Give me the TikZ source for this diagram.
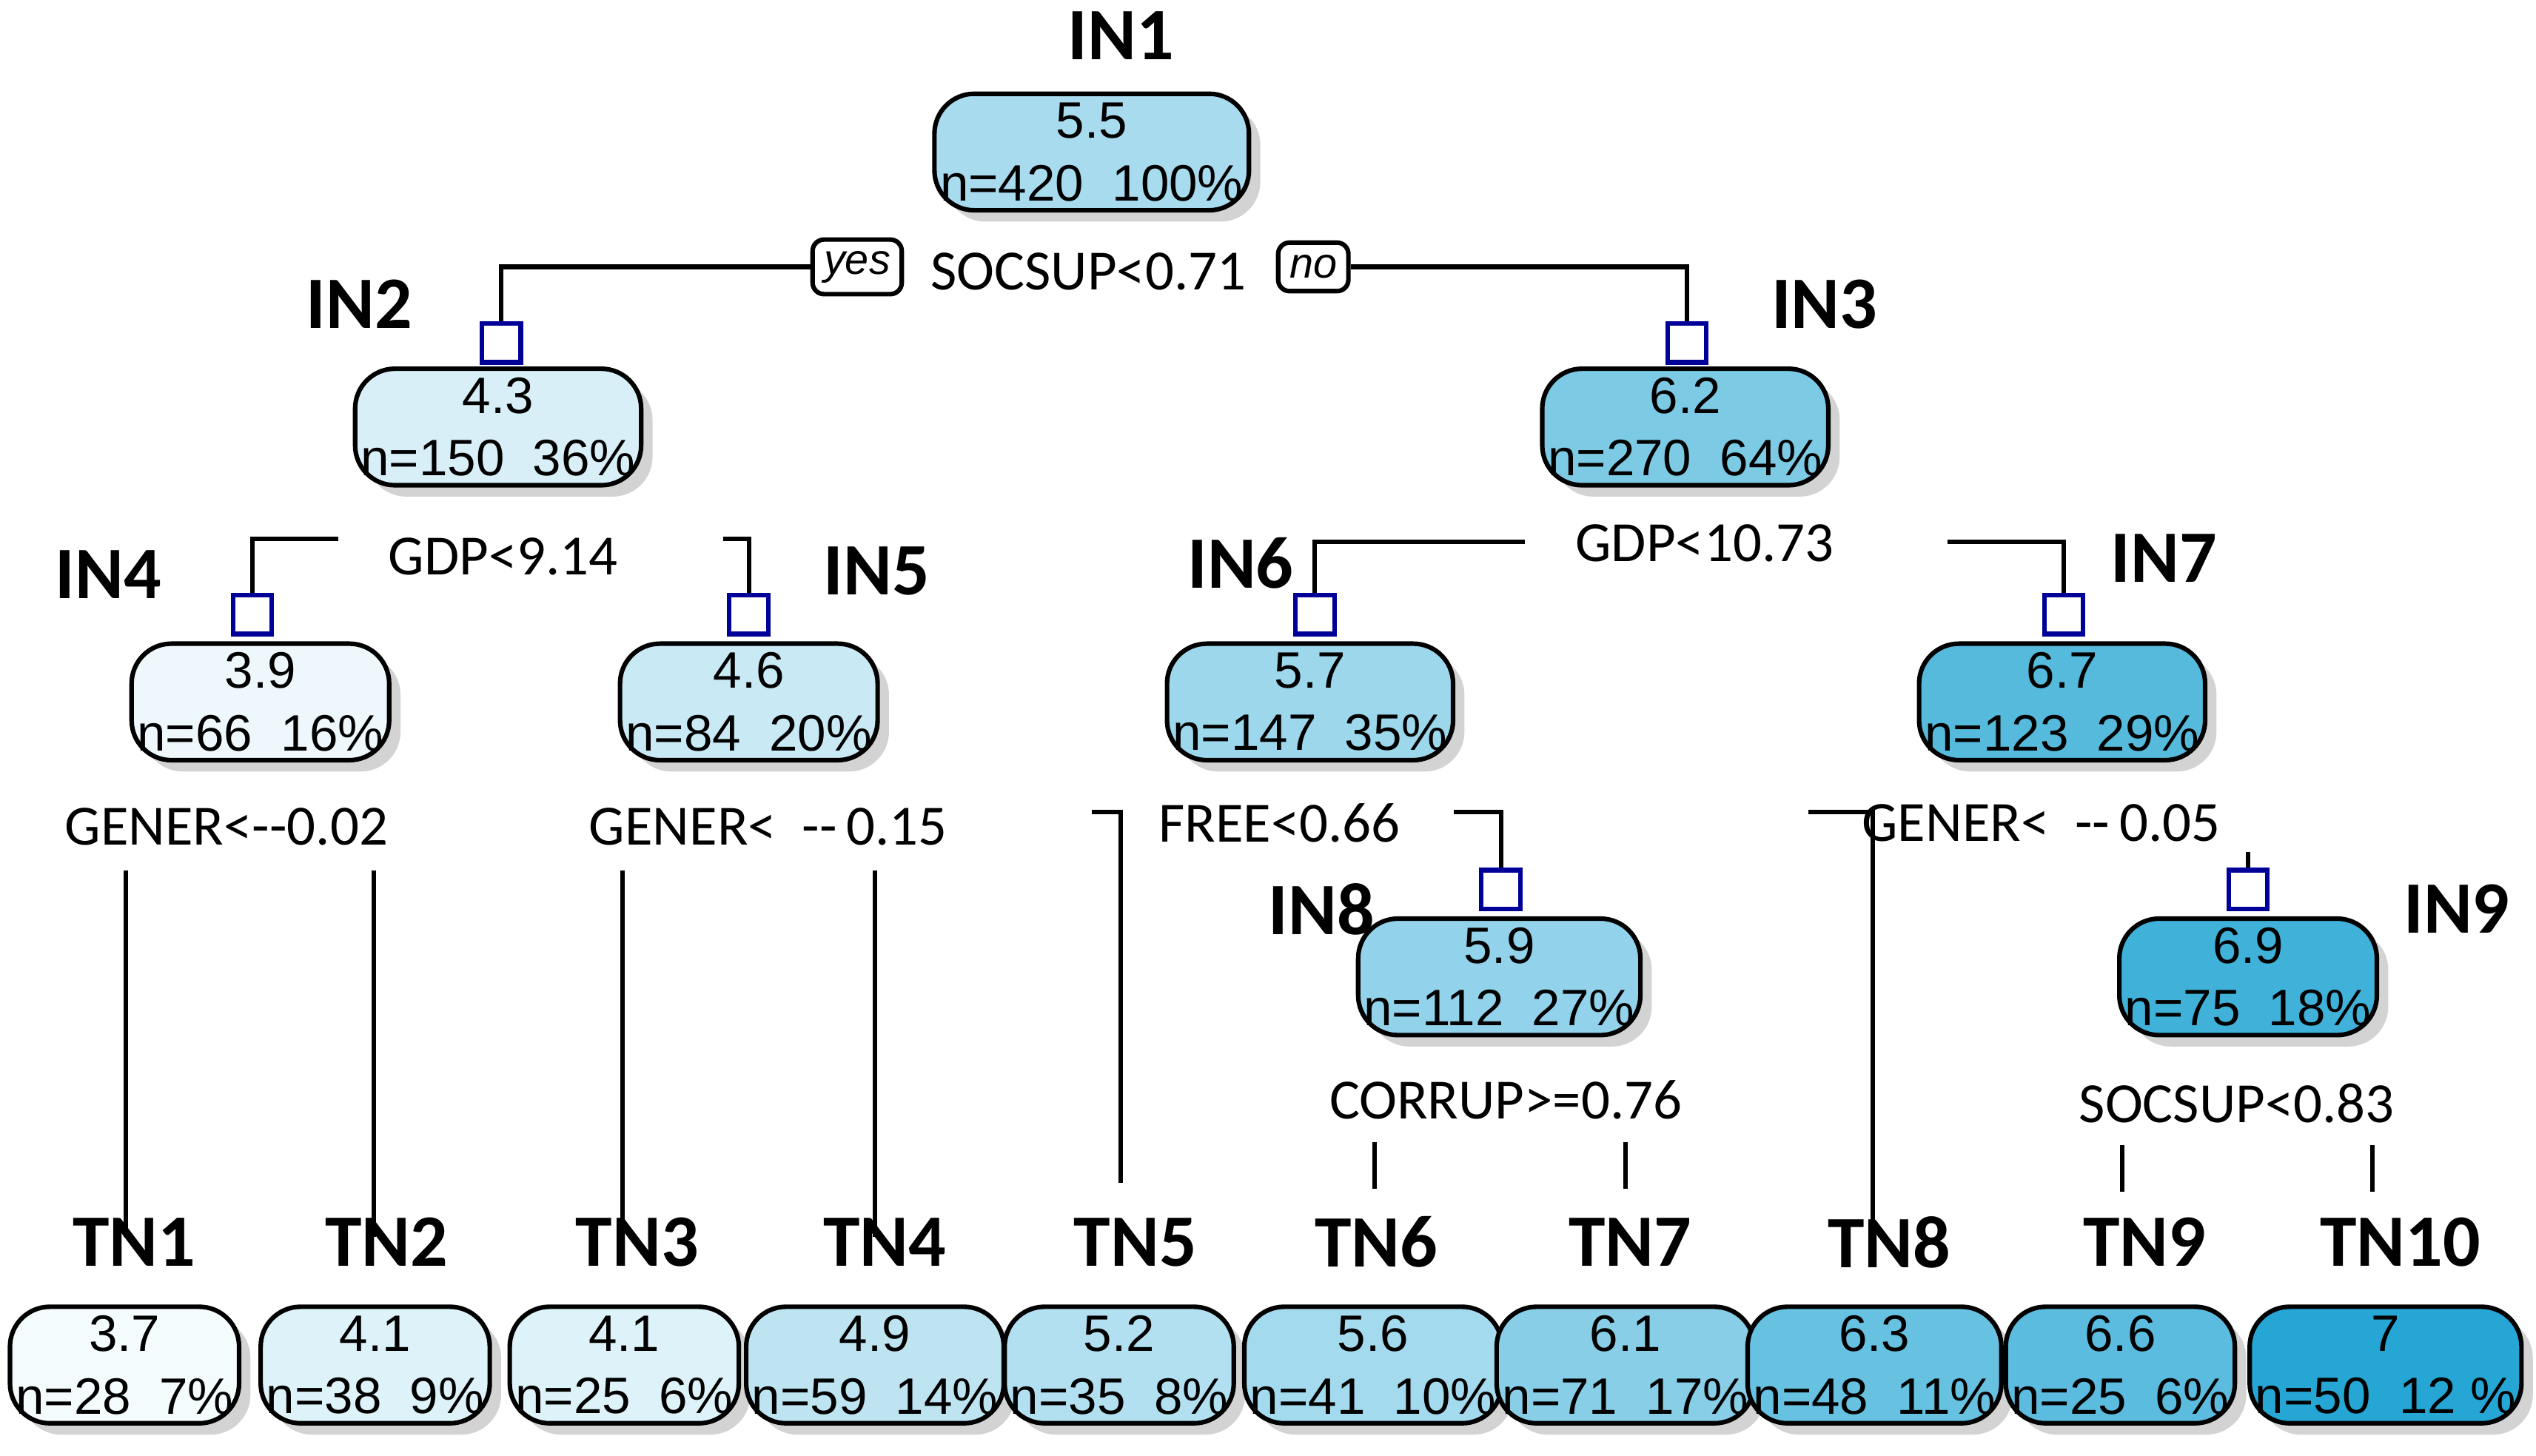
\documentclass[tikz,border=0pt]{standalone}
\usepackage{fontspec}
\setmainfont{Liberation Sans}
\newfontfamily\lblfont{Carlito}
\usetikzlibrary{shadows,calc}
\definecolor{tb}{RGB}{38,166,212}
\tikzset{
	box/.style={draw=black, thick, rounded corners=7pt, fill=tb!#1!white, align=center,
		minimum width=1.3cm, minimum height=0.72cm, inner sep=1pt,
		font=\fontsize{9}{11}\selectfont, drop shadow={shadow xshift=2pt, shadow yshift=-2pt, opacity=0.35}},
	lbl/.style={font=\lblfont\bfseries\fontsize{13}{14}\selectfont},
	cnd/.style={font=\lblfont\fontsize{10}{12}\selectfont},
	sq/.style={draw=blue!60!black, fill=white, minimum size=0.24cm, inner sep=0pt},
	tag/.style={draw, rounded corners=2pt, font=\itshape\fontsize{7.5}{9}\selectfont, inner sep=2pt, minimum height=0.3cm}
}
\begin{document}
\begin{tikzpicture}[x=0.01cm, y=-0.01cm, thick]
	\useasboundingbox (0,0) rectangle (1568,900);

	% inner nodes
	\node[box=40] (b1) at (675,94) {5.5\\n=420\ \ 100\%};
	\node[lbl] (in1) at (693,22) {IN1};
	\node[box=18] (b2) at (308,264) {4.3\\n=150\ \ 36\%};
	\node[lbl] (in2) at (222,188) {IN2};
	\node[box=60] (b3) at (1042,264) {6.2\\n=270\ \ 64\%};
	\node[lbl] (in3) at (1128,188) {IN3};
	\node[box=8] (b4) at (161,434) {3.9\\n=66\ \ 16\%};
	\node[lbl] (in4) at (67,355) {IN4};
	\node[box=25] (b5) at (463,434) {4.6\\n=84\ \ 20\%};
	\node[lbl] (in5) at (542,353) {IN5};
	\node[box=45] (b6) at (810,434) {5.7\\n=147\ \ 35\%};
	\node[lbl] (in6) at (767,348) {IN6};
	\node[box=78] (b7) at (1275,434) {6.7\\n=123\ \ 29\%};
	\node[lbl] (in7) at (1338,345) {IN7};
	\node[box=50] (b8) at (927,604) {5.9\\n=112\ \ 27\%};
	\node[lbl] (in8) at (817,562) {IN8};
	\node[box=88] (b9) at (1390,604) {6.9\\n=75\ \ 18\%};
	\node[lbl] (in9) at (1519,562) {IN9};

	% squares above boxes
	\foreach \k/\x/\y in {2/310/212, 3/1043/212, 4/156/380, 5/463/380, 6/813/380, 7/1276/380, 8/928/550, 9/1390/550}
		\node[sq] (s\k) at (\x,\y) {};

	% split conditions
	\node[cnd] (c1) at (673,168) {SOCSUP<0.71};
	\node[tag] (yes) at (530,165) {yes};
	\node[tag] (no) at (812,165) {no};
	\node[cnd] (c2) at (311,344) {GDP<9.14};
	\node[cnd] (c3) at (1054,336) {GDP<10.73};
	\node[cnd] (c4) at (140,511) {GENER<--0.02};
	\node[cnd] (c5) at (475,511) {GENER<\ \ --\,0.15};
	\node[cnd] (c6) at (791,509) {FREE<0.66};
	\node[cnd] (c7) at (1262,509) {GENER<\ \ --\,0.05};
	\node[cnd] (c8) at (931,680) {CORRUP>=0.76};
	\node[cnd] (c9) at (1383,682) {SOCSUP<0.83};

	% leaves
	\foreach \k/\x/\lx/\f/\val/\cnt/\pct in {
			1/77/83/5/3.7/28/7,
			2/232/239/15/4.1/38/9,
			3/386/394/15/4.1/25/6,
			4/541/547/30/4.9/59/14,
			5/692/702/35/5.2/35/8,
			6/849/851/42/5.6/41/10,
			7/1005/1008/55/6.1/71/17,
			8/1159/1168/70/6.3/48/11,
			9/1311/1326/75/6.6/25/6,
			10/1475/1484/100/7/50/12
		} {
			\node[box=\f] (t\k) at (\x,844) {\val\\n=\cnt\ \ \pct\%};
			\node[lbl] (tn\k) at (\lx,768) {TN\k};
		}

	% connectors
	\draw (s2.north) |- (yes.west);
	\draw (s3.north) |- (no.east);
	\draw (s4.north) |- ($(c2.west)+(-18,-11)$);
	\draw (s5.north) |- ($(c2.east)+(52,-11)$);
	\draw (s6.north) |- ($(c3.west)+(-18,-1)$);
	\draw (s7.north) |- ($(c3.east)+(57,-1)$);
	\draw (s8.north) |- ($(c6.east)+(20,-7)$);
	\draw (s9.north) -- ++(0,-10);
	\draw ($(t5.north)+(1,-75)$) |- ($(c6.west)+(-28,-7)$);
	\draw ($(t8.north)+(-1,-43)$) |- ($(c7.west)+(-20,-7)$);
	\foreach \x in {78, 231, 385, 541}
		\draw (\x,538) -- (\x,765);
	\foreach \x in {850, 1005}
		\draw (\x,706) -- (\x,735);
	\foreach \x in {1312, 1467}
		\draw (\x,708) -- (\x,737);
\end{tikzpicture}
\end{document}
